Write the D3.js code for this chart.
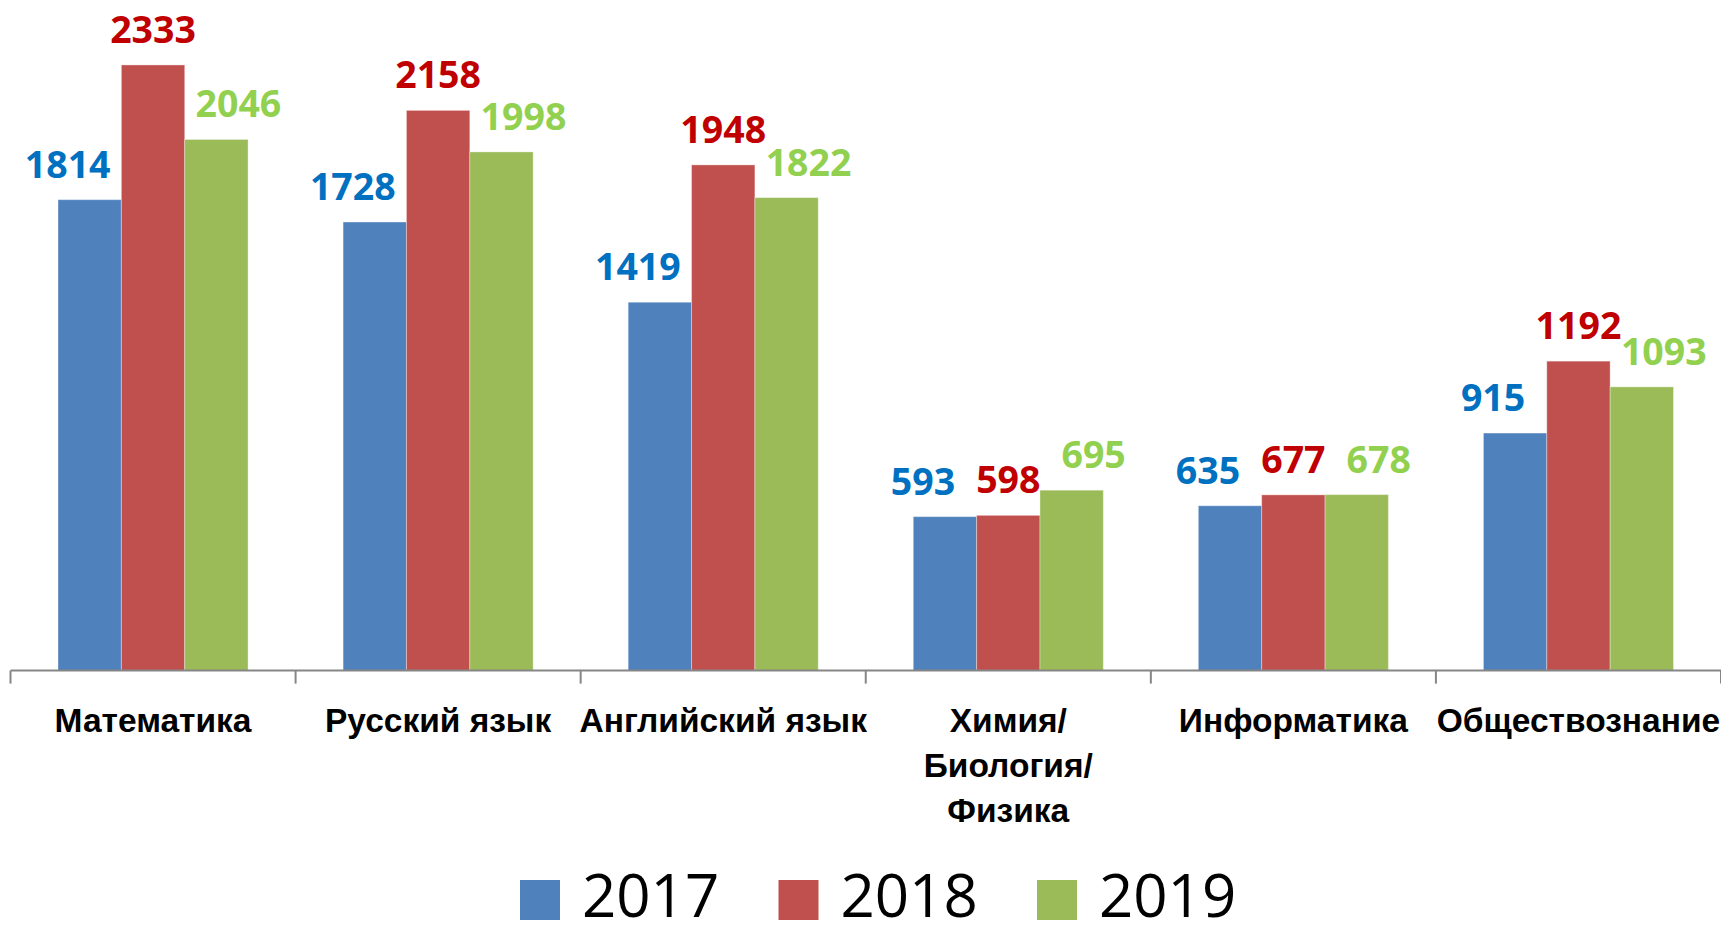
<!DOCTYPE html>
<html>
<head>
<meta charset="utf-8">
<script src="https://cdn.jsdelivr.net/npm/d3@7"></script>
<style>
  body { margin: 0; background: #fff; }
  svg { display: block; font-family: "Open Sans", sans-serif; }
</style>
</head>
<body>
<script>
// data
const subjects = ['Математика', 'Русский язык', 'Английский язык', 'Химия/\nБиология/\nФизика', 'Информатика', 'Обществознание'];
const years = ['2017', '2018', '2019'];
const v2017 = [1814, 1728, 1419, 593, 635, 915];
const v2018 = [2333, 2158, 1948, 598, 677, 1192];
const v2019 = [2046, 1998, 1822, 695, 678, 1093];

const width = 1721;
const height = 934;

const barColors = ['#4F81BD', '#C0504D', '#9BBB59'];
const labelColors = ['#0070C0', '#C00000', '#92D050'];
const labelShift = [-22, 0, 22];

const rows = subjects.map((s, i) => ({
  subject: s,
  values: [v2017[i], v2018[i], v2019[i]]
}));

const svg = d3.select('body')
  .append('svg')
  .attr('width', width)
  .attr('height', height);

// scales
const x0 = d3.scaleBand()
  .domain(subjects)
  .range([10.5, 1721]);

const x1 = d3.scaleBand()
  .domain(years)
  .range([0, x0.bandwidth()])
  .paddingOuter(0.75)
  .paddingInner(0);

const y = d3.scaleLinear()
  .domain([0, 2500])
  .range([670.6, 21.6]);

// bars
const groups = svg.selectAll('.group')
  .data(rows)
  .enter()
  .append('g')
  .attr('class', 'group')
  .attr('transform', d => 'translate(' + x0(d.subject) + ',0)');

groups.selectAll('rect')
  .data(d => d.values.map((v, i) => ({ year: years[i], value: v, i: i })))
  .enter()
  .append('rect')
  .attr('x', d => x1(d.year))
  .attr('y', d => y(d.value))
  .attr('width', x1.bandwidth())
  .attr('height', d => y(0) - y(d.value))
  .attr('fill', d => barColors[d.i])
  .attr('stroke', 'rgba(255,255,255,0.35)')
  .attr('stroke-width', 1);

// value labels
groups.selectAll('text.val')
  .data(d => d.values.map((v, i) => ({ year: years[i], value: v, i: i })))
  .enter()
  .append('text')
  .attr('class', 'val')
  .attr('x', d => x1(d.year) + x1.bandwidth() / 2 + labelShift[d.i])
  .attr('y', d => y(d.value) - 22)
  .attr('text-anchor', 'middle')
  .attr('font-size', 37.5)
  .attr('font-weight', 700)
  .attr('fill', d => labelColors[d.i])
  .text(d => d.value);

// x axis (labels centred, ticks on the band edges like Excel)
const xAxis = d3.axisBottom(x0).tickSize(0).tickPadding(0).tickFormat('');
const axisG = svg.append('g')
  .attr('id', 'x-axis')
  .attr('transform', 'translate(0,' + y(0) + ')')
  .call(xAxis);
axisG.select('.domain')
  .attr('stroke', '#868686')
  .attr('stroke-width', 2)
  .attr('d', 'M' + x0.range()[0] + ',0H' + x0.range()[1]);

const edges = subjects.map(s => x0(s)).concat([x0.range()[1]]);
axisG.selectAll('.edge')
  .data(edges)
  .enter()
  .append('line')
  .attr('class', 'edge')
  .attr('x1', d => d).attr('x2', d => d)
  .attr('y1', 0).attr('y2', 13)
  .attr('stroke', '#868686')
  .attr('stroke-width', 2);

axisG.selectAll('.tick').each(function(d) {
  const t = d3.select(this).append('text')
    .attr('fill', '#000')
    .attr('font-size', 33.5)
    .attr('font-weight', 700)
    .attr('text-anchor', 'middle');
  d.split('\n').forEach((line, i) => {
    t.append('tspan')
      .attr('x', 0)
      .attr('y', 61 + i * 45)
      .text(line);
  });
});

// legend
const legend = svg.append('g')
  .attr('id', 'legend')
  .attr('transform', 'translate(520,880)');

const item = legend.selectAll('g')
  .data(years)
  .enter()
  .append('g')
  .attr('transform', (d, i) => 'translate(' + i * 258.5 + ',0)');

item.append('rect')
  .attr('width', 40)
  .attr('height', 40)
  .attr('fill', (d, i) => barColors[i]);

item.append('text')
  .attr('x', 62)
  .attr('y', 37)
  .attr('font-size', 60)
  .attr('fill', '#000')
  .text(d => d);
</script>
</body>
</html>
